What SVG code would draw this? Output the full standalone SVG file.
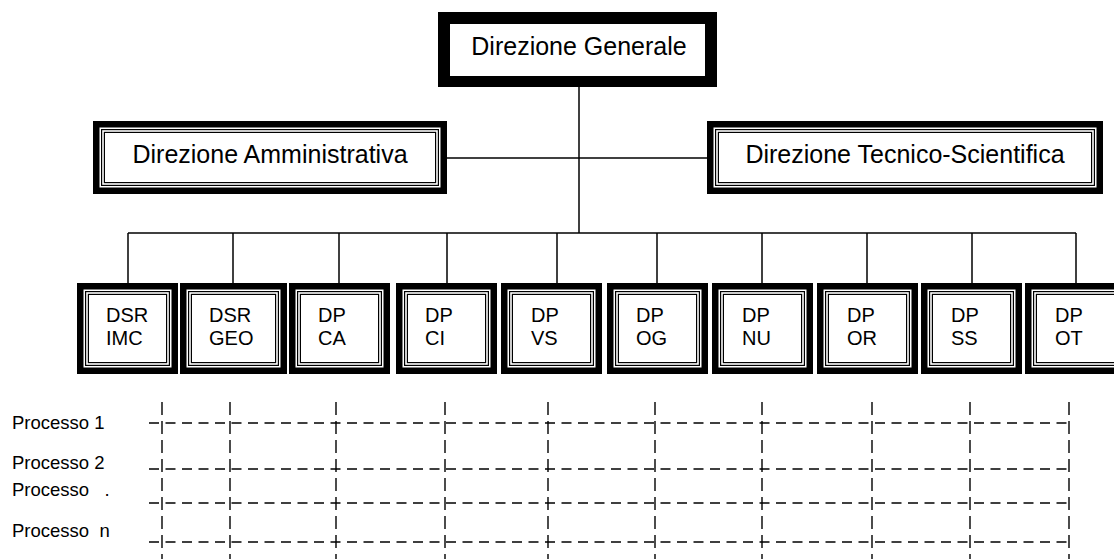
<svg xmlns="http://www.w3.org/2000/svg" width="1114" height="559" viewBox="0 0 1114 559">
<style>
text{font-family:"Liberation Sans",Arial,sans-serif;fill:#000}
.big{font-size:25px}
.small{font-size:20px}
.proc{font-size:18.5px;white-space:pre}
.outer{fill:#000}
.gap{fill:#fff}
.thin{fill:none;stroke:#000;stroke-width:1.2}
.conn{stroke:#000;stroke-width:1.5;fill:none}
.hd{stroke:#000;stroke-width:1.4;stroke-dasharray:10 6.5;fill:none}
.vd{stroke:#000;stroke-width:1.4;stroke-dasharray:13 6;fill:none}
</style>
<rect width="1114" height="559" fill="#fff"/>
<g id="connectors">
<line class="conn" x1="579" y1="87" x2="579" y2="233"/>
<line class="conn" x1="447" y1="158" x2="707" y2="158"/>
<line class="conn" x1="128" y1="233" x2="1076" y2="233"/>
<line class="conn" x1="128" y1="233" x2="128" y2="283"/>
<line class="conn" x1="233" y1="233" x2="233" y2="283"/>
<line class="conn" x1="339" y1="233" x2="339" y2="283"/>
<line class="conn" x1="447" y1="233" x2="447" y2="283"/>
<line class="conn" x1="557" y1="233" x2="557" y2="283"/>
<line class="conn" x1="657" y1="233" x2="657" y2="283"/>
<line class="conn" x1="762" y1="233" x2="762" y2="283"/>
<line class="conn" x1="867" y1="233" x2="867" y2="283"/>
<line class="conn" x1="972" y1="233" x2="972" y2="283"/>
<line class="conn" x1="1076" y1="233" x2="1076" y2="283"/>
</g>
<g id="direzione-generale">
<rect x="438" y="12" width="279" height="75" fill="#000"/>
<rect x="450" y="24" width="255" height="52" fill="#fff"/>
<text class="big" x="579" y="55" text-anchor="middle">Direzione Generale</text>
</g>
<g id="direzione-amministrativa">
<rect class="outer" x="93" y="121" width="354" height="73"/>
<rect class="gap" x="99.5" y="127.5" width="341" height="60"/>
<rect class="thin" x="101.6" y="129.6" width="336.8" height="55.8"/>
<rect class="thin" x="104.4" y="132.4" width="331.2" height="50.2"/>
<text class="big" x="270" y="163" text-anchor="middle">Direzione Amministrativa</text>
</g>
<g id="direzione-tecnico-scientifica">
<rect class="outer" x="707" y="121" width="396" height="73"/>
<rect class="gap" x="713.5" y="127.5" width="383" height="60"/>
<rect class="thin" x="715.6" y="129.6" width="378.8" height="55.8"/>
<rect class="thin" x="718.4" y="132.4" width="373.2" height="50.2"/>
<text class="big" x="905" y="163" text-anchor="middle">Direzione Tecnico-Scientifica</text>
</g>
<defs>
<g id="frame">
<rect class="outer" x="0" y="0" width="101" height="91"/>
<rect class="gap" x="6.5" y="6.5" width="88" height="78"/>
<rect class="thin" x="8.6" y="8.6" width="83.8" height="73.8"/>
<rect class="thin" x="11.4" y="11.4" width="78.2" height="68.2"/>
</g>
</defs>
<g id="dsr-imc"><use href="#frame" x="77" y="283"/><text class="small" x="106" y="322">DSR</text><text class="small" x="106" y="345">IMC</text></g>
<g id="dsr-geo"><rect class="outer" x="180" y="283" width="107" height="91"/><rect class="gap" x="186.5" y="289.5" width="94" height="78"/><rect class="thin" x="188.6" y="291.6" width="89.8" height="73.8"/><rect class="thin" x="191.4" y="294.4" width="84.2" height="68.2"/><text class="small" x="209" y="322">DSR</text><text class="small" x="209" y="345">GEO</text></g>
<g id="dp-ca"><use href="#frame" x="289" y="283"/><text class="small" x="318" y="322">DP</text><text class="small" x="318" y="345">CA</text></g>
<g id="dp-ci"><use href="#frame" x="396" y="283"/><text class="small" x="425" y="322">DP</text><text class="small" x="425" y="345">CI</text></g>
<g id="dp-vs"><use href="#frame" x="501" y="283"/><text class="small" x="531" y="322">DP</text><text class="small" x="531" y="345">VS</text></g>
<g id="dp-og"><use href="#frame" x="607" y="283"/><text class="small" x="636" y="322">DP</text><text class="small" x="636" y="345">OG</text></g>
<g id="dp-nu"><use href="#frame" x="712" y="283"/><text class="small" x="742" y="322">DP</text><text class="small" x="742" y="345">NU</text></g>
<g id="dp-or"><use href="#frame" x="817" y="283"/><text class="small" x="847" y="322">DP</text><text class="small" x="847" y="345">OR</text></g>
<g id="dp-ss"><use href="#frame" x="921" y="283"/><text class="small" x="951" y="322">DP</text><text class="small" x="951" y="345">SS</text></g>
<g id="dp-ot"><use href="#frame" x="1025" y="283"/><text class="small" x="1055" y="322">DP</text><text class="small" x="1055" y="345">OT</text></g>
<g id="grid">
<line class="hd" x1="149" y1="423" x2="1073" y2="423"/>
<line class="hd" x1="149" y1="469" x2="1073" y2="469"/>
<line class="hd" x1="149" y1="503" x2="1073" y2="503"/>
<line class="hd" x1="149" y1="542" x2="1073" y2="542"/>
<line class="vd" x1="162" y1="402" x2="162" y2="559"/>
<line class="vd" x1="230" y1="402" x2="230" y2="559"/>
<line class="vd" x1="336" y1="402" x2="336" y2="559"/>
<line class="vd" x1="445" y1="402" x2="445" y2="559"/>
<line class="vd" x1="548" y1="402" x2="548" y2="559"/>
<line class="vd" x1="655" y1="402" x2="655" y2="559"/>
<line class="vd" x1="762" y1="402" x2="762" y2="559"/>
<line class="vd" x1="872" y1="402" x2="872" y2="559"/>
<line class="vd" x1="970" y1="402" x2="970" y2="559"/>
<line class="vd" x1="1069" y1="402" x2="1069" y2="559"/>
</g>
<g id="labels">
<text class="proc" x="12" y="429">Processo 1</text>
<text class="proc" x="12" y="469">Processo 2</text>
<text class="proc" x="12" y="496">Processo   .</text>
<text class="proc" x="12" y="537">Processo  n</text>
</g>
</svg>
